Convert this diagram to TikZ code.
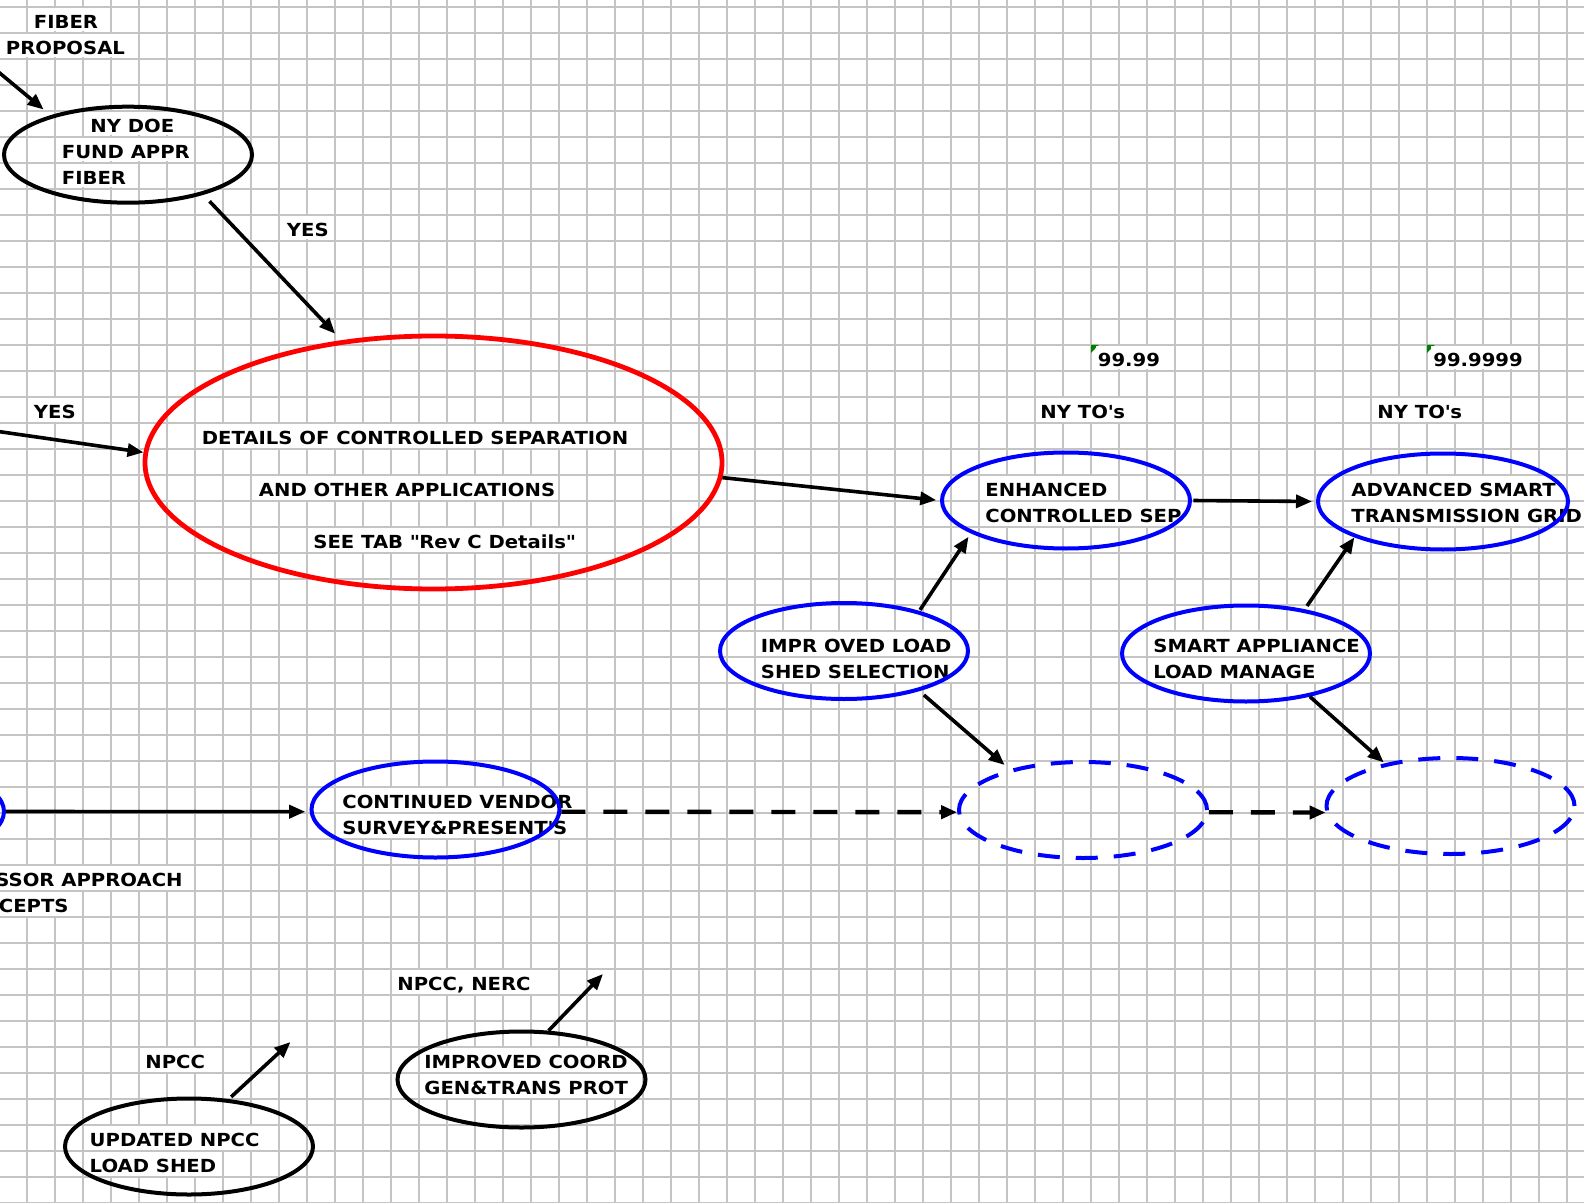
\documentclass[tikz,border=0pt]{standalone}
\usepackage{fontspec}
\newfontfamily\cellfont[FakeStretch=1.09]{DejaVu Sans}
\newcommand\celltext{\cellfont\bfseries\fontsize{9pt}{13pt}\selectfont}
\usetikzlibrary{shapes.geometric, arrows.meta}
\definecolor{gridgray}{RGB}{196,196,196}
\definecolor{markgreen}{RGB}{0,128,0}

\begin{document}
\begin{tikzpicture}[x=0.5pt, y=-0.5pt,
    ell/.style={ellipse, draw, line width=2pt, inner sep=0pt, minimum width=124pt, minimum height=48pt},
    blueell/.style={ell, draw=blue},
    dashell/.style={blueell, dash pattern=on 11pt off 8pt},
    cell/.style={anchor=base west, fill=white, inner xsep=1pt, inner ysep=0pt, text height=10.2pt, text depth=1.6pt, font=\celltext},
    arr/.style={line width=1.8pt, -{Triangle[length=8pt, width=6.5pt]}},
    dasharr/.style={arr, line width=2.2pt, dash pattern=on 12pt off 9pt}]
    \useasboundingbox (0,0) rectangle (1584,1203);
    \clip (0,0) rectangle (1584,1203);
    \fill[white] (0,0) rectangle (1584,1203);
    % sheet grid
    \foreach \i in {0,...,55} \draw[gridgray, line width=0.9pt] (26.7+28*\i,0) -- (26.7+28*\i,1203);
    \foreach \j in {0,...,46} \draw[gridgray, line width=0.9pt] (0,6.7+26*\j) -- (1584,6.7+26*\j);
    \fill[markgreen] (1091,345) -- (1098.5,345) -- (1091,353) -- cycle;
    \fill[markgreen] (1427,345) -- (1434.5,345) -- (1427,353) -- cycle;

    % cell texts
    \node[cell] (fibA) at (31.5,28.3) {FIBER};
    \node[cell] (fibB) at (3.5,54.3) {PROPOSAL};
    \node[cell] (doeA) at (88,132.3) {NY DOE};
    \node[cell] (doeB) at (59.5,158.3) {FUND APPR};
    \node[cell] (doeC) at (59.5,184.3) {FIBER};
    \node[cell] (yesA) at (284.5,236.3) {YES};
    \node[cell] (yesB) at (31.5,418.3) {YES};
    \node[cell] (detA) at (199.5,444.3) {DETAILS OF CONTROLLED SEPARATION};
    \node[cell] (detB) at (256.5,496.3) {AND OTHER APPLICATIONS};
    \node[cell] (detC) at (311,548.3) {SEE TAB \textquotedbl Rev C Details\textquotedbl};
    \node[cell] (pctA) at (1095.5,366.3) {99.99};
    \node[cell] (pctB) at (1431,366.3) {99.9999};
    \node[cell] (toA) at (1038,418.3) {NY TO\textquotesingle s};
    \node[cell] (toB) at (1375,418.3) {NY TO\textquotesingle s};
    \node[cell] (enhA) at (983,496.3) {ENHANCED};
    \node[cell] (enhB) at (983,522.3) {CONTROLLED SEP};
    \node[cell] (advA) at (1349,496.3) {ADVANCED SMART};
    \node[cell] (advB) at (1349,522.3) {TRANSMISSION GRID};
    \node[cell] (imprA) at (758.5,652.3) {IMPR OVED LOAD};
    \node[cell] (imprB) at (758.5,678.3) {SHED SELECTION};
    \node[cell] (smartA) at (1151,652.3) {SMART APPLIANCE};
    \node[cell] (smartB) at (1151,678.3) {LOAD MANAGE};
    \node[cell] (contA) at (340,808.3) {CONTINUED VENDOR};
    \node[cell] (contB) at (340,834.3) {SURVEY\&PRESENT\textquotesingle S};
    \node[cell, anchor=base east] (ssorA) at (185,886.3) {SSOR APPROACH};
    \node[cell, anchor=base east] (ssorB) at (71,912.3) {CEPTS};
    \node[cell] (nercL) at (395,990.3) {NPCC, NERC};
    \node[cell] (npccL) at (143,1068.3) {NPCC};
    \node[cell] (coordA) at (422,1068.3) {IMPROVED COORD};
    \node[cell] (coordB) at (422,1094.3) {GEN\&TRANS PROT};
    \node[cell] (updA) at (87.3,1146.3) {UPDATED NPCC};
    \node[cell] (updB) at (87.3,1172.3) {LOAD SHED};

    % ellipses
    \node[ell] (doe) at (128,154.7) {};
    \node[ell, draw=red, line width=2.4pt, minimum width=288.5pt, minimum height=126.5pt] (sepdet) at (433.5,462.5) {};
    \node[blueell] (enhsep) at (1066,500.5) {};
    \node[blueell, minimum width=125pt] (advgrid) at (1443,501.5) {};
    \node[blueell] (imprload) at (844,651) {};
    \node[blueell] (smartload) at (1246,653.5) {};
    \node[blueell] (prevvend) at (-120,811.5) {};
    \node[blueell] (contvend) at (435.5,809.5) {};
    \node[dashell] (nextA) at (1083,810) {};
    \node[dashell] (nextB) at (1450.5,806) {};
    \node[ell] (coordprot) at (521.5,1079.5) {};
    \node[ell] (updshed) at (189,1146.5) {};

    % connectors
    \coordinate (fibin) at (-10,65);
    \coordinate (yesin) at (-10,430.3);
    \coordinate (npccout) at (290.5,1042);
    \coordinate (nercout) at (603,974);
    \draw[arr, shorten >=4.5pt] (fibin) -- (doe.153.6);
    \draw[arr, shorten <=4.5pt, shorten >=4.5pt] (doe.-28) -- (sepdet.127);
    \draw[arr] (yesin) -- (sepdet.178);
    \draw[arr, shorten >=1.9pt] (sepdet.-3) -- (enhsep.west);
    \draw[arr, shorten <=0.7pt, shorten >=2pt] (enhsep.east) -- (advgrid.west);
    \draw[arr, shorten <=0.6pt, shorten >=2.1pt] (imprload.28) -- (enhsep.-161.5);
    \draw[arr, shorten <=3pt, shorten >=3.3pt] (imprload.-28.2) -- (nextA.151.4);
    \draw[arr, shorten <=2pt] (smartload.37.5) -- (advgrid.-158.2);
    \draw[arr, shorten >=0.7pt] (smartload.-34.6) -- (nextB.147.1);
    \draw[arr, shorten >=2.2pt] (prevvend.east) -- (contvend.181);
    \draw[dasharr] (contvend.-1) -- (nextA.181);
    \draw[dasharr] (nextA.-1) -- (nextB.183);
    \draw[arr, shorten <=1.6pt] (updshed.50.5) -- (npccout);
    \draw[arr] (coordprot.61.7) -- (nercout);
\end{tikzpicture}
\end{document}
